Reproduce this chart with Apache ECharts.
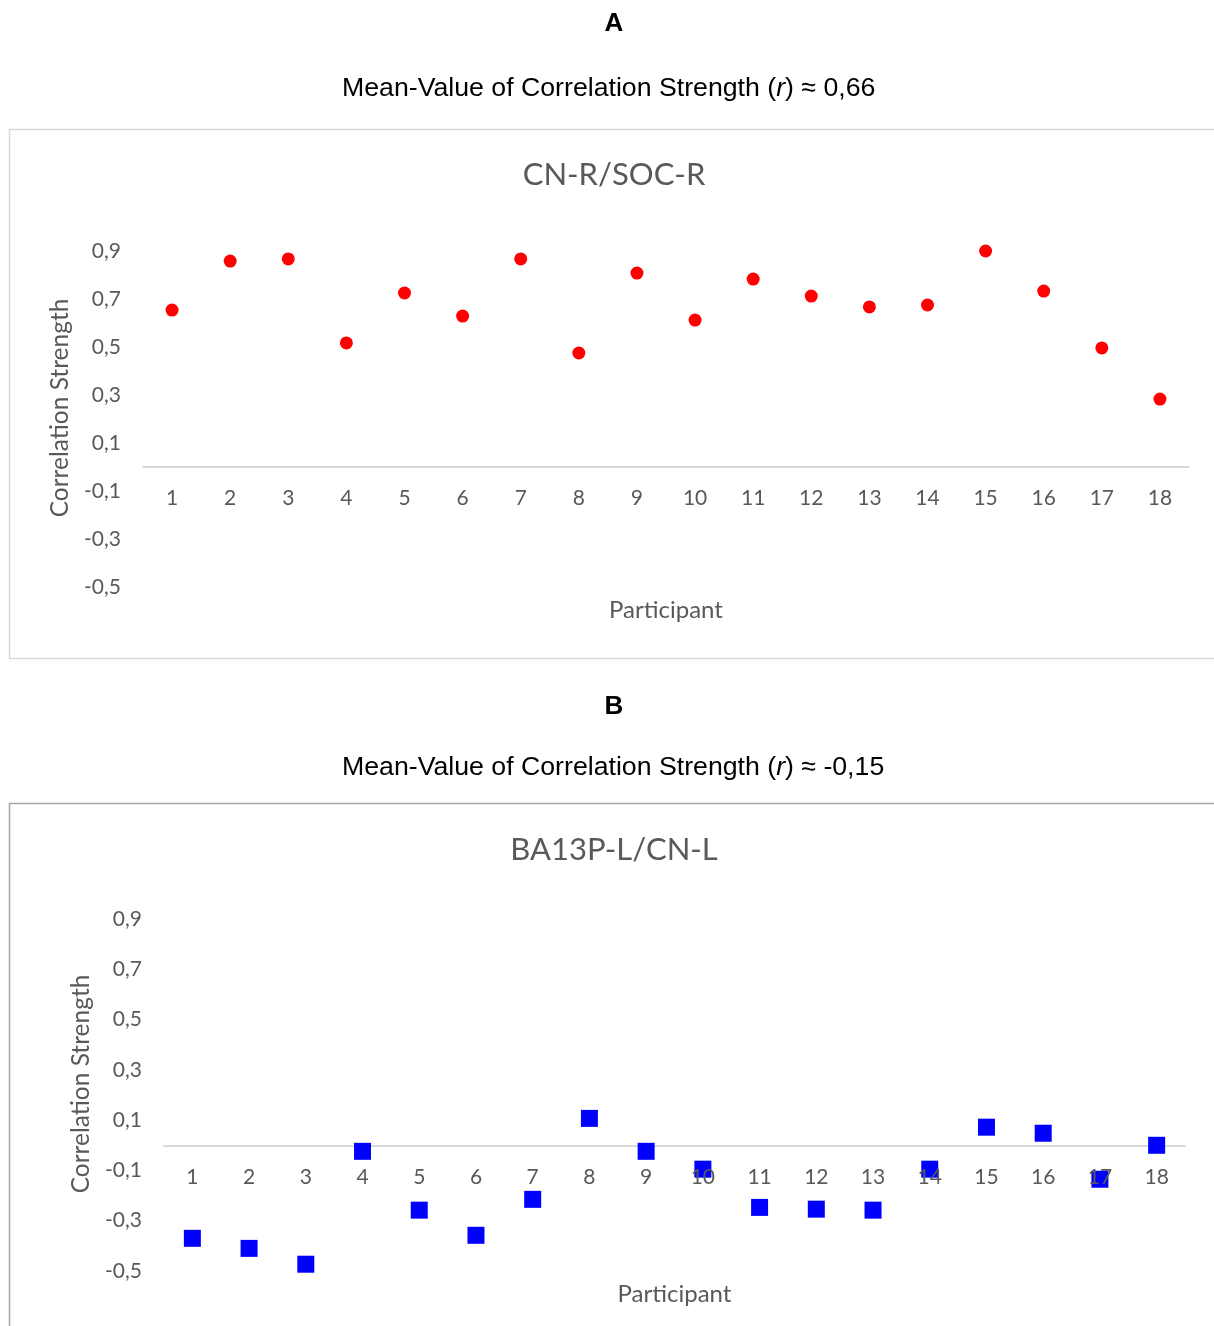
<!DOCTYPE html>
<html>
<head>
<meta charset="utf-8">
<script src="https://cdn.jsdelivr.net/npm/echarts@6/dist/echarts.min.js"></script>
<style>
  html, body { margin: 0; padding: 0; background: #fff; }
  #chart { width: 1214px; height: 1326px; }
</style>
</head>
<body>
<div id="chart"></div>
<script>
// Participants 1..18
const participants = ['1','2','3','4','5','6','7','8','9','10','11','12','13','14','15','16','17','18'];

// Correlation strength (r) per participant
const cnR_socR = [0.654, 0.858, 0.867, 0.517, 0.725, 0.629, 0.867, 0.475, 0.808,
                  0.612, 0.783, 0.712, 0.667, 0.675, 0.900, 0.733, 0.496, 0.283];
const ba13pL_cnL = [-0.370, -0.410, -0.473, -0.024, -0.258, -0.358, -0.215, 0.107, -0.024,
                    -0.095, -0.247, -0.254, -0.258, -0.095, 0.072, 0.048, -0.135, 0.000];

// Tick range shared by both panels
const yMin = -0.5, yMax = 0.9, yStep = 0.2;

const panelTitles = ['CN-R/SOC-R', 'BA13P-L/CN-L'];
const panelLetters = ['A', 'B'];
const meanLabels = ['0,66', '-0,15'];

const GRAY = '#595959';
const AXIS_FONT = 'Lato, "Open Sans", sans-serif';
const HEAD_FONT = '"Liberation Sans", Arial, sans-serif';
const comma = v => v.toFixed(1).replace('.', ',');

// plot areas
const grids = [
  { left: 143, top: 251, width: 1046, height: 336 },
  { left: 164, top: 919, width: 1021, height: 352 }
];

// shift that puts the category axis on r = 0 (measured up from the plot bottom)
const zeroOffset = g => -g.height * (0 - yMin) / (yMax - yMin);

function yAxisFor(gridIndex) {
  return {
    type: 'value', gridIndex, min: yMin, max: yMax, interval: yStep,
    axisLine: { show: false }, axisTick: { show: false }, splitLine: { show: false },
    axisLabel: { formatter: comma, color: GRAY, fontSize: 21, fontFamily: AXIS_FONT, margin: 22 },
    name: 'Correlation Strength', nameLocation: 'middle', nameGap: 70,
    nameTextStyle: { color: GRAY, fontSize: 24.5, fontFamily: AXIS_FONT, padding: [0, 0, 0, 22] }
  };
}

// the r = 0 line, kept beneath the markers
function xLineAxis(gridIndex, nameGap) {
  return {
    type: 'category', gridIndex, data: participants, position: 'bottom', z: 0,
    offset: zeroOffset(grids[gridIndex]),
    axisLine: { show: true, onZero: false, lineStyle: { color: '#d9d9d9', width: 2 } },
    axisTick: { show: false }, axisLabel: { show: false },
    name: 'Participant', nameLocation: 'middle', nameGap,
    nameTextStyle: { color: GRAY, fontSize: 24, fontFamily: AXIS_FONT }
  };
}

// participant numbers, drawn above the markers
function xLabelAxis(gridIndex) {
  return {
    type: 'category', gridIndex, data: participants, position: 'bottom', z: 5,
    offset: zeroOffset(grids[gridIndex]),
    axisLine: { show: false, onZero: false }, axisTick: { show: false },
    axisLabel: { color: GRAY, fontSize: 21, fontFamily: AXIS_FONT, margin: 21 }
  };
}

function letterTitle(i, top) {
  return { text: panelLetters[i], left: 614, textAlign: 'center', top: top, padding: 0,
    textStyle: { fontFamily: HEAD_FONT, fontWeight: 'bold', fontSize: 26, color: '#000' } };
}

function meanTitle(i, top) {
  return { text: '{n|Mean-Value of Correlation Strength (}{i|r}{n|) ≈ ' + meanLabels[i] + '}',
    left: 342, textAlign: 'left', top: top, padding: 0,
    textStyle: { fontWeight: 'normal', rich: {
      n: { fontFamily: HEAD_FONT, fontSize: 26.7, fontWeight: 'normal', color: '#000' },
      i: { fontFamily: HEAD_FONT, fontSize: 26.7, fontWeight: 'normal', color: '#000', fontStyle: 'italic' }
    } } };
}

function panelTitle(i, top) {
  return { text: panelTitles[i], left: 614, textAlign: 'center', top: top, padding: 0,
    textStyle: { fontFamily: AXIS_FONT, fontWeight: 'normal', fontSize: 31, color: GRAY } };
}

const chart = echarts.init(document.getElementById('chart'), null, { renderer: 'canvas' });

chart.setOption({
  backgroundColor: '#fff',
  animation: false,
  title: [
    letterTitle(0, 11), meanTitle(0, 75), panelTitle(0, 159),
    letterTitle(1, 694), meanTitle(1, 754), panelTitle(1, 834)
  ],
  graphic: [
    { type: 'rect', z: -1, shape: { x: 9.5, y: 129.5, width: 1220, height: 529 },
      style: { fill: 'none', stroke: '#d9d9d9', lineWidth: 1.5 } },
    { type: 'rect', z: -1, shape: { x: 9.5, y: 803.5, width: 1220, height: 600 },
      style: { fill: 'none', stroke: '#a6a6a6', lineWidth: 1.5 } }
  ],
  grid: grids.map(g => Object.assign({ containLabel: false, outerBoundsMode: 'none' }, g)),
  xAxis: [xLineAxis(0, 131), xLabelAxis(0), xLineAxis(1, 137), xLabelAxis(1)],
  yAxis: [yAxisFor(0), yAxisFor(1)],
  series: [
    { type: 'scatter', xAxisIndex: 0, yAxisIndex: 0, data: cnR_socR, clip: false, z: 2,
      symbol: 'circle', symbolSize: 13, itemStyle: { color: '#ff0000', opacity: 1 } },
    { type: 'scatter', xAxisIndex: 2, yAxisIndex: 1, data: ba13pL_cnL, clip: false, z: 2,
      symbol: 'rect', symbolSize: 17, itemStyle: { color: '#0000ff', opacity: 1 } }
  ]
});
</script>
</body>
</html>
